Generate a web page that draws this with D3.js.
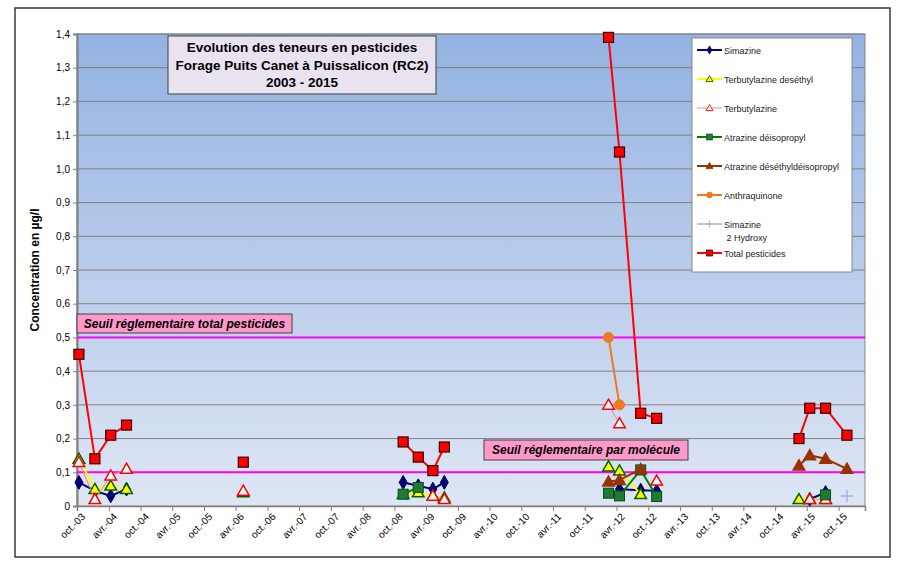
<!DOCTYPE html>
<html>
<head>
<meta charset="utf-8">
<script src="https://cdn.jsdelivr.net/npm/d3@7"></script>
<style>
body { margin:0; background:#fff; }
svg { font-family: "Liberation Sans", Arial, sans-serif; }
</style>
</head>
<body>
<div id="chart"></div>
<script>

// dates des prélèvements
var dates = ["2003-10-12","2004-01-12","2004-04-12","2004-07-12","2006-05-15",
             "2008-11-20","2009-02-15","2009-05-10","2009-07-15",
             "2012-02-15","2012-04-18","2012-08-18","2012-11-18",
             "2015-02-15","2015-04-18","2015-07-18","2015-11-18"];

var simazine      = [0.07,0.045,0.03,0.05, null, 0.07,0.06,0.05,0.07, null,0.05,0.047,0.045, null,0.02,0.04,null];
var terbuDesethyl = [0.14,0.05,0.06,0.05, 0.04, 0.035,0.04,0.03,0.025, 0.117,0.105,0.035,null, 0.02,0.02,0.02,null];
var terbutylazine = [0.13,0.02,0.09,0.11, 0.045, null,null,0.03,0.02, 0.30,0.245,null,0.075, null,0.02,0.02,null];
var atrazineDeiso = [null,null,null,null, null, 0.035,0.055,null,null, 0.038,0.03,0.107,0.028, null,null,0.033,null];
var atrazineDedi  = [null,null,null,null, null, null,null,null,null, 0.072,0.077,0.109,null, 0.12,0.15,0.14,0.11];
var anthraquinone = [null,null,null,null, null, null,null,null,null, 0.50,0.30,null,null, null,null,null,null];
var simazine2OH   = [null,null,null,null, null, null,null,null,null, null,null,null,null, null,null,null,0.03];
var total         = [0.45,0.14,0.21,0.24, 0.13, 0.19,0.145,0.105,0.175, 1.39,1.05,0.275,0.26, 0.20,0.29,0.29,0.21];

var seuils = [0.5, 0.1];
var yTicks = [0,0.1,0.2,0.3,0.4,0.5,0.6,0.7,0.8,0.9,1,1.1,1.2,1.3,1.4];
var xTickLabels = ["oct.-03","avr.-04","oct.-04","avr.-05","oct.-05","avr.-06","oct.-06","avr.-07","oct.-07",
                   "avr.-08","oct.-08","avr.-09","oct.-09","avr.-10","oct.-10","avr.-11","oct.-11","avr.-12",
                   "oct.-12","avr.-13","oct.-13","avr.-14","oct.-14","avr.-15","oct.-15"];

var series = [
    {name:"Simazine", values:simazine, line:"#000080", lw:2, marker:"diamond", fill:"#000080", stroke:"#000040"},
    {name:"Terbutylazine deséthyl", values:terbuDesethyl, line:"#FFFF00", lw:2, marker:"triangle", fill:"#FFFF00", stroke:"#006400"},
    {name:"Terbutylazine", values:terbutylazine, line:"#FF8080", lw:1, marker:"triangle", fill:"#FFFFFF", stroke:"#FF0000"},
    {name:"Atrazine déisopropyl", values:atrazineDeiso, line:"#008000", lw:2, marker:"square", fill:"#1E7B32", stroke:"#0B4A18"},
    {name:"Atrazine déséthyldéisopropyl", values:atrazineDedi, line:"#993300", lw:2, marker:"triangle", fill:"#993300", stroke:"#993300"},
    {name:"Anthraquinone", values:anthraquinone, line:"#F07820", lw:2, marker:"circle", fill:"#F07820", stroke:"#F07820"},
    {name:"Simazine 2 Hydroxy", values:simazine2OH, line:"#9DB5E5", lw:1.5, marker:"plus", fill:"none", stroke:"#9DB5E5"},
    {name:"Total pesticides", values:total, line:"#FF0000", lw:2, marker:"bigsquare", fill:"#FF0000", stroke:"#3A0000"}
];

var parseDate = d3.timeParse("%Y-%m-%d");
var sampleDates = dates.map(parseDate);

var W = 900, H = 561;
var plot = {left:77, right:865, top:34, bottom:506};

var x = d3.scaleTime()
    .domain([new Date(2003,9,1), new Date(2016,2,1)])
    .range([plot.left, plot.right]);
var y = d3.scaleLinear()
    .domain([0, 1.4])
    .range([plot.bottom, plot.top]);

var monthIdx = {"oct.":9, "avr.":3};
var xTickDates = xTickLabels.map(function(l) {
    var p = l.split("-");
    return new Date(2000 + (+p[1]), monthIdx[p[0]], 1);
});

var svg = d3.select("#chart").append("svg")
    .attr("width", W)
    .attr("height", H);

// outer frame
svg.append("rect")
    .attr("x", 15).attr("y", 8)
    .attr("width", 875).attr("height", 549)
    .attr("fill", "#fff")
    .attr("stroke", "#3a3a3a")
    .attr("stroke-width", 1.5);

var defs = svg.append("defs");
var grad = defs.append("linearGradient")
    .attr("id", "bg").attr("x1", 0).attr("y1", 0).attr("x2", 0).attr("y2", 1);
grad.append("stop").attr("offset", "0%").attr("stop-color", "#94B2E2");
grad.append("stop").attr("offset", "100%").attr("stop-color", "#DEE6F4");

svg.append("rect")
    .attr("x", plot.left).attr("y", plot.top)
    .attr("width", plot.right - plot.left)
    .attr("height", plot.bottom - plot.top)
    .attr("fill", "url(#bg)")
    .attr("stroke", "#8a8a8a");

// grid
svg.append("g").selectAll("line")
    .data(yTicks.slice(1))
    .enter().append("line")
    .attr("x1", plot.left).attr("x2", plot.right)
    .attr("y1", function(d) { return y(d); })
    .attr("y2", function(d) { return y(d); })
    .attr("stroke", "#7f7f7f")
    .attr("stroke-width", 1);

// axes
var fmtComma = function(d) { return d === 0 ? "0" : d3.format(".1f")(d).replace(".", ","); };
var yAxis = d3.axisLeft(y).tickValues(yTicks).tickFormat(fmtComma).tickSize(4).tickPadding(3);
var gy = svg.append("g")
    .attr("transform", "translate(" + plot.left + ",0)")
    .call(yAxis);
gy.select(".domain").attr("stroke", "#7f7f7f").attr("stroke-width", 2);
gy.selectAll(".tick line").attr("stroke", "#7f7f7f");
gy.selectAll("text").attr("font-size", 10).attr("fill", "#000")
    .attr("font-family", "Liberation Sans, Arial, sans-serif");

var xAxis = d3.axisBottom(x).tickValues(xTickDates)
    .tickFormat(function(d, i) { return xTickLabels[i]; })
    .tickSize(5);
var gx = svg.append("g")
    .attr("transform", "translate(0," + plot.bottom + ")")
    .call(xAxis);
gx.select(".domain").attr("stroke", "#7f7f7f").attr("stroke-width", 1.5);
gx.selectAll(".tick line").attr("stroke", "#7f7f7f");
gx.selectAll("text")
    .attr("font-size", 10).attr("fill", "#000")
    .attr("font-family", "Liberation Sans, Arial, sans-serif")
    .attr("text-anchor", "end")
    .attr("dx", "-0.2em").attr("dy", "0.6em")
    .attr("transform", "rotate(-45)");

svg.append("text")
    .text("Concentration  en µg/l")
    .attr("transform", "translate(39," + ((plot.top + plot.bottom) / 2) + ") rotate(-90)")
    .attr("text-anchor", "middle")
    .attr("font-size", 12).attr("font-weight", "bold");

// seuils
svg.append("g").selectAll("line")
    .data(seuils)
    .enter().append("line")
    .attr("x1", plot.left).attr("x2", plot.right)
    .attr("y1", function(d) { return y(d); })
    .attr("y2", function(d) { return y(d); })
    .attr("stroke", "#FF00FF")
    .attr("stroke-width", 2);

function labelBox(txt, bx, by, bw, bh) {
    svg.append("rect")
        .attr("x", bx).attr("y", by).attr("width", bw).attr("height", bh)
        .attr("fill", "#FF99CC").attr("stroke", "#404040");
    svg.append("text")
        .text(txt)
        .attr("x", bx + bw / 2).attr("y", by + bh / 2 + 4)
        .attr("text-anchor", "middle")
        .attr("font-size", 12).attr("font-weight", "bold").attr("font-style", "italic");
}
labelBox("Seuil réglementaire total pesticides", 77, 314, 215, 19);
labelBox("Seuil réglementaire par molécule", 484, 440, 204, 20);

// series
function segments(vals) {
    var segs = [], cur = [];
    vals.forEach(function(v, i) {
        var d = sampleDates[i];
        var gap = cur.length ? (d - cur[cur.length - 1].date) / 864e5 : 0;
        if (v == null || gap > 250) {
            if (cur.length) segs.push(cur);
            cur = [];
        }
        if (v != null) cur.push({date:d, v:v});
    });
    if (cur.length) segs.push(cur);
    return segs;
}

var line = d3.line()
    .x(function(d) { return x(d.date); })
    .y(function(d) { return y(d.v); });

function drawMarker(g, s, cx, cy) {
    if (s.marker === "diamond") {
        g.append("path").attr("d", d3.symbol(d3.symbolDiamond, 55)())
            .attr("transform", "translate(" + cx + "," + cy + ")")
            .attr("fill", s.fill).attr("stroke", s.stroke);
    } else if (s.marker === "triangle") {
        g.append("path").attr("d", d3.symbol(d3.symbolTriangle, 58)())
            .attr("transform", "translate(" + cx + "," + (cy + 1) + ")")
            .attr("fill", s.fill).attr("stroke", s.stroke).attr("stroke-width", 1.5);
    } else if (s.marker === "square") {
        g.append("rect").attr("x", cx - 5).attr("y", cy - 5).attr("width", 10).attr("height", 10)
            .attr("fill", s.fill).attr("stroke", s.stroke);
    } else if (s.marker === "bigsquare") {
        g.append("rect").attr("x", cx - 5).attr("y", cy - 5).attr("width", 10).attr("height", 10)
            .attr("fill", s.fill).attr("stroke", s.stroke).attr("stroke-width", 1.2);
    } else if (s.marker === "circle") {
        g.append("circle").attr("cx", cx).attr("cy", cy).attr("r", 5)
            .attr("fill", s.fill).attr("stroke", s.stroke);
    } else if (s.marker === "plus") {
        g.append("path").attr("d", "M" + (cx - 6) + "," + cy + "H" + (cx + 6) + "M" + cx + "," + (cy - 6) + "V" + (cy + 6))
            .attr("stroke", s.stroke).attr("stroke-width", 1.5).attr("fill", "none");
    }
}

series.forEach(function(s) {
    var g = svg.append("g");
    segments(s.values).forEach(function(seg) {
        g.append("path").datum(seg)
            .attr("d", line)
            .attr("fill", "none")
            .attr("stroke", s.line)
            .attr("stroke-width", s.lw);
    });
    s.values.forEach(function(v, i) {
        if (v == null) return;
        drawMarker(g, s, x(sampleDates[i]), y(v));
    });
});

// title
svg.append("rect")
    .attr("x", 168).attr("y", 36).attr("width", 268).attr("height", 58)
    .attr("fill", "#E8E3EE").attr("stroke", "#404040");
var titleLines = ["Evolution des teneurs en pesticides", "Forage Puits Canet à Puissalicon (RC2)", "2003 - 2015"];
svg.append("g").selectAll("text")
    .data(titleLines)
    .enter().append("text")
    .text(function(d) { return d; })
    .attr("x", 302)
    .attr("y", function(d, i) { return 52 + i * 17.5; })
    .attr("text-anchor", "middle")
    .attr("font-size", 13.5).attr("font-weight", "bold");

// legend
var leg = svg.append("g");
leg.append("rect")
    .attr("x", 692).attr("y", 38).attr("width", 160).attr("height", 234)
    .attr("fill", "#fff").attr("stroke", "#8a8a8a");
var legY = [50, 79, 108, 137, 166, 195, 224, 253];
series.forEach(function(s, i) {
    var ly = legY[i];
    leg.append("line")
        .attr("x1", 697).attr("x2", 722).attr("y1", ly).attr("y2", ly)
        .attr("stroke", s.line).attr("stroke-width", s.lw);
    var ms = {marker:s.marker, fill:s.fill, stroke:s.stroke};
    var lg = leg.append("g").attr("transform", "translate(709.5," + ly + ") scale(0.6) translate(-709.5," + (-ly) + ")");
    drawMarker(lg, ms, 709.5, ly);
    var parts = s.name === "Simazine 2 Hydroxy" ? ["Simazine", " 2 Hydroxy"] : [s.name];
    parts.forEach(function(p, j) {
        leg.append("text")
            .text(p)
            .attr("x", 724).attr("y", ly + 3.5 + j * 13)
            .attr("xml:space", "preserve")
            .style("white-space", "pre")
            .attr("font-size", 9).attr("fill", "#222");
    });
});

</script>
</body>
</html>
